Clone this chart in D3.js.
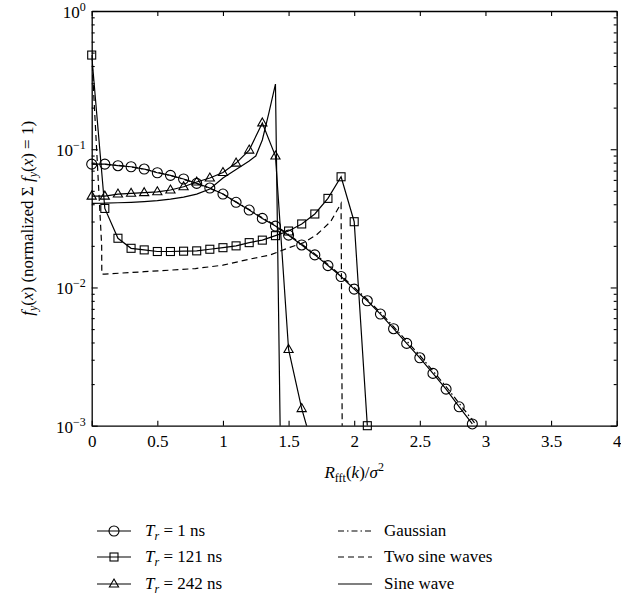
<!DOCTYPE html>
<html><head><meta charset="utf-8">
<script src="https://cdn.jsdelivr.net/npm/d3@7"></script>
<style>
body{margin:0;background:#fff;}
svg, svg text{font-family:"Liberation Serif","Times New Roman","DejaVu Serif",serif;}
</style></head>
<body><svg id="c" width="621" height="598"></svg>
<script>
// ---- data ----
const tr1X = [0,0.1,0.2,0.3,0.4,0.5,0.6,0.7,0.8,0.9,1.0,1.1,1.2,1.3,1.4,1.5,1.6,1.7,1.8,1.9,2.0,2.1,2.2,2.3,2.4,2.5,2.6,2.7,2.8,2.9];
const tr1Y = [0.078,0.078,0.076,0.0747,0.0719,0.0676,0.0647,0.0609,0.0566,0.0524,0.0474,0.0413,0.0363,0.0316,0.0278,0.0239,0.0203,0.0172,0.0144,0.0120,0.00973,0.00801,0.00642,0.00503,0.00394,0.0031,0.00239,0.00184,0.00137,0.00103];
const tr121X = [0,0.1,0.2,0.3,0.4,0.5,0.6,0.7,0.8,0.9,1.0,1.1,1.2,1.3,1.4,1.5,1.6,1.7,1.8,1.9,2.0,2.1];
const tr121Y = [0.48,0.0373,0.0227,0.0192,0.0187,0.0182,0.0182,0.0183,0.0184,0.0189,0.0194,0.0200,0.0211,0.0220,0.0237,0.0256,0.0288,0.0340,0.0441,0.0632,0.0299,0.001];
const tr242X = [0,0.1,0.2,0.3,0.4,0.5,0.6,0.7,0.8,0.9,1.0,1.1,1.2,1.3,1.4,1.5,1.6,1.7];
const tr242Y = [0.0458,0.0458,0.0474,0.048,0.0485,0.0492,0.0507,0.0535,0.0579,0.0619,0.0678,0.0794,0.0986,0.155,0.0893,0.00356,0.00133,0.00062];
const gaussX = [0,0.1,0.2,0.3,0.4,0.5,0.6,0.7,0.8,0.9,1.0,1.1,1.2,1.3,1.4,1.5,1.6,1.7,1.8,1.9,2.0,2.1,2.2,2.3,2.4,2.5,2.6,2.7,2.8,2.9,2.95];
const gaussY = [0.078,0.0778,0.0765,0.0745,0.0718,0.0682,0.0645,0.0606,0.0565,0.0521,0.0474,0.0416,0.0366,0.0319,0.0281,0.0242,0.0206,0.0175,0.0147,0.0122,0.0100,0.0082,0.0066,0.0052,0.0041,0.00322,0.00249,0.00192,0.00145,0.0011,0.00095];
const twoSineX = [0,0.076,0.077,0.1,0.4,0.79,1.0,1.2,1.36,1.51,1.61,1.71,1.82,1.90,1.91];
const twoSineY = [0.48,0.02,0.0125,0.0125,0.0130,0.0137,0.0145,0.0160,0.0172,0.0195,0.0210,0.0239,0.0299,0.0406,0.0005];
const sineX = [0,0.1,0.2,0.3,0.4,0.5,0.6,0.7,0.8,0.9,1.0,1.1,1.2,1.25,1.3,1.35,1.40,1.44];
const sineY = [0.0406,0.0407,0.041,0.0413,0.0418,0.0425,0.0436,0.0451,0.0474,0.0515,0.0619,0.0713,0.0822,0.0893,0.1166,0.183,0.296,0.0005];
const xTicks = [0,0.5,1,1.5,2,2.5,3,3.5,4];
const xTickLabels = ["0","0.5","1","1.5","2","2.5","3","3.5","4"];
const yTicks = [1e-3,1e-2,1e-1,1];
const yTickExp = ["−3","−2","−1","0"];
const legendLeft = [{sym:"circle",n:"1"},{sym:"square",n:"121"},{sym:"triangle",n:"242"}];
const legendRight = [{dash:"6,3,1.5,3",t:"Gaussian"},{dash:"6,4",t:"Two sine waves"},{dash:null,t:"Sine wave"}];

// ---- chart ----
const FONT="'Liberation Serif','Times New Roman','DejaVu Serif',serif";
const L=91.7,R=616.7,T=11,B=425.7;
const svg=d3.select("#c");
const x=d3.scaleLinear().domain([0,4]).range([L,R]);
const y=d3.scaleLog().domain([1e-3,1]).range([B,T]);
const minor=[];
[1e-3,1e-2,1e-1].forEach(d=>{for(let k=2;k<=9;k++)minor.push(d*k);});

svg.append("defs").append("clipPath").attr("id","clip").append("rect")
  .attr("x",L).attr("y",T).attr("width",R-L).attr("height",B-T);

function styleAxis(g){g.attr("font-family",FONT);g.selectAll("path,line").attr("stroke","#000").attr("stroke-width",1.1);g.select(".domain").attr("stroke-width",1.3);}

const gb=svg.append("g").attr("transform",`translate(0,${B})`)
 .call(d3.axisBottom(x).tickValues(xTicks).tickFormat((d,i)=>xTickLabels[i]).tickSizeInner(-5).tickSizeOuter(0).tickPadding(9));
styleAxis(gb);
gb.selectAll("text").attr("font-size",17).attr("fill","#000").attr("font-family",FONT);
const gt=svg.append("g").attr("transform",`translate(0,${T})`)
 .call(d3.axisTop(x).tickValues(xTicks).tickFormat("").tickSizeInner(-5).tickSizeOuter(0));
styleAxis(gt);
const gl=svg.append("g").attr("transform",`translate(${L},0)`)
 .call(d3.axisLeft(y).tickValues(yTicks).tickFormat("").tickSizeInner(-6).tickSizeOuter(0));
styleAxis(gl);
svg.append("g").attr("transform",`translate(${L},0)`)
 .call(d3.axisLeft(y).tickValues(minor).tickFormat("").tickSizeInner(-3).tickSizeOuter(0))
 .call(g=>{g.select(".domain").remove();g.selectAll("line").attr("stroke","#000").attr("stroke-width",1.1);});
const gr=svg.append("g").attr("transform",`translate(${R},0)`)
 .call(d3.axisRight(y).tickValues(yTicks).tickFormat("").tickSizeInner(-6).tickSizeOuter(0));
styleAxis(gr);
svg.append("g").attr("transform",`translate(${R},0)`)
 .call(d3.axisRight(y).tickValues(minor).tickFormat("").tickSizeInner(-3).tickSizeOuter(0))
 .call(g=>{g.select(".domain").remove();g.selectAll("line").attr("stroke","#000").attr("stroke-width",1.1);});

yTicks.forEach((v,i)=>{
  const t=svg.append("text").attr("x",L-6).attr("y",y(v)+7).attr("text-anchor","end").attr("font-size",17).attr("fill","#000").attr("font-family",FONT);
  t.append("tspan").text("10");
  t.append("tspan").attr("dy",-7).attr("font-size",12).text(yTickExp[i]);
});

const line=d3.line().x(d=>x(d[0])).y(d=>y(d[1]));
const plot=svg.append("g").attr("clip-path","url(#clip)");
const zip=(a,b)=>a.map((v,i)=>[v,b[i]]);
function curve(xs,ys,dash){
  plot.append("path").datum(zip(xs,ys)).attr("d",line).attr("fill","none").attr("stroke","#000")
   .attr("stroke-width",1.2).attr("stroke-dasharray",dash||null);
}
curve(gaussX,gaussY,"6,3,1.5,3");
curve(twoSineX,twoSineY,"6,4");
curve(sineX,sineY,null);
curve(tr1X,tr1Y,null);
curve(tr121X,tr121Y,null);
curve(tr242X,tr242Y,null);

function marker(g,sym,cx,cy){
  if(sym==="circle") g.append("circle").attr("cx",cx).attr("cy",cy).attr("r",5);
  else if(sym==="square") g.append("rect").attr("x",cx-4).attr("y",cy-4).attr("width",8).attr("height",8);
  else g.append("path").attr("d",`M${cx},${cy-5}L${cx+4.6},${cy+3}L${cx-4.6},${cy+3}Z`);
}
const mg=svg.append("g").attr("fill","none").attr("stroke","#000").attr("stroke-width",1.1);
[[tr1X,tr1Y,"circle"],[tr121X,tr121Y,"square"],[tr242X,tr242Y,"triangle"]].forEach(([xs,ys,s])=>{
  xs.forEach((xv,i)=>{ if(ys[i]>=1e-3) marker(mg,s,x(xv),y(ys[i])); });
});

const xl=svg.append("text").attr("x",(L+R)/2).attr("y",478).attr("text-anchor","middle").attr("font-size",17).attr("fill","#000").attr("font-family",FONT);
xl.append("tspan").attr("font-style","italic").text("R");
xl.append("tspan").attr("dy",4).attr("font-size",12).text("fft");
xl.append("tspan").attr("dy",-4).text("(");
xl.append("tspan").attr("font-style","italic").text("k");
xl.append("tspan").text(")/");
xl.append("tspan").attr("font-style","italic").text("σ");
xl.append("tspan").attr("dy",-7).attr("font-size",12).text("2");

const yl=svg.append("text").attr("transform",`translate(33,${(T+B)/2}) rotate(-90)`).attr("text-anchor","middle").attr("font-size",17).attr("fill","#000").attr("font-family",FONT);
yl.append("tspan").attr("font-style","italic").text("f");
yl.append("tspan").attr("font-style","italic").attr("dy",4).attr("font-size",12).text("y");
yl.append("tspan").attr("dy",-4).text("(");
yl.append("tspan").attr("font-style","italic").text("x");
yl.append("tspan").text(") (normalized Σ ");
yl.append("tspan").attr("font-style","italic").text("f");
yl.append("tspan").attr("font-style","italic").attr("dy",4).attr("font-size",12).text("y");
yl.append("tspan").attr("dy",-4).text("(");
yl.append("tspan").attr("font-style","italic").text("x");
yl.append("tspan").text(") = 1)");

const rows=[531,557,584];
const lg=svg.append("g").attr("font-family",FONT);
legendLeft.forEach((d,i)=>{
  const cy=rows[i];
  lg.append("line").attr("x1",97).attr("x2",131).attr("y1",cy).attr("y2",cy).attr("stroke","#000").attr("stroke-width",1.2);
  const mk=lg.append("g").attr("fill","none").attr("stroke","#000").attr("stroke-width",1.1);
  marker(mk,d.sym,114,cy);
  const t=lg.append("text").attr("x",145).attr("y",cy+5).attr("font-size",17).attr("fill","#000");
  t.append("tspan").attr("font-style","italic").text("T");
  t.append("tspan").attr("font-style","italic").attr("dy",4).attr("font-size",12).text("r");
  t.append("tspan").attr("dy",-4).text(" = "+d.n+" ns");
});
legendRight.forEach((d,i)=>{
  const cy=rows[i];
  lg.append("line").attr("x1",338).attr("x2",372).attr("y1",cy).attr("y2",cy).attr("stroke","#000").attr("stroke-width",1.2).attr("stroke-dasharray",d.dash);
  lg.append("text").attr("x",384).attr("y",cy+5).attr("font-size",17).attr("fill","#000").text(d.t);
});
</script></body></html>
